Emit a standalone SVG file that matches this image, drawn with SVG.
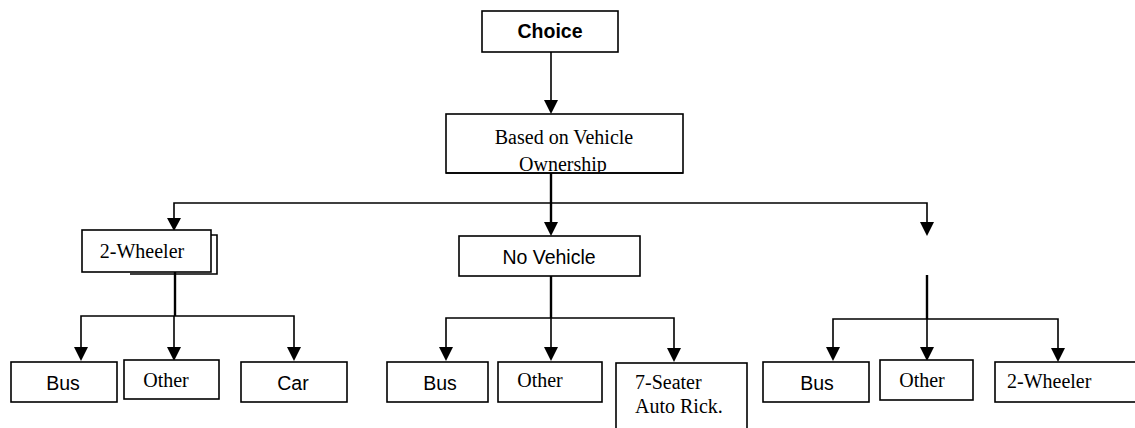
<svg xmlns="http://www.w3.org/2000/svg" width="1135" height="428" viewBox="0 0 1135 428">
<style>
.box{fill:#fff;stroke:#000;stroke-width:1.6}
.sans{font-family:"Liberation Sans",Arial,sans-serif;font-size:19.5px;fill:#000}
.serif{font-family:"Liberation Serif","Times New Roman",serif;font-size:20px;fill:#000}
.ln{fill:none;stroke:#000;stroke-width:1.6}
.trunk{fill:none;stroke:#000;stroke-width:2.4}
</style>
<defs>
<clipPath id="clipB"><rect x="446" y="114" width="237" height="58"/></clipPath>
</defs>
<g id="connectors">
<line class="ln" x1="551" y1="52" x2="551" y2="100"/>
<path d="M544,100 L558,100 L551,114 Z"/>
<line class="trunk" x1="551" y1="173" x2="551" y2="222"/>
<path class="ln" d="M174,220 L174,203 L927,203 L927,222"/>
<path d="M167,218 L181,218 L174,231 Z"/>
<path d="M544,222 L558,222 L551,236 Z"/>
<path d="M920,222 L934,222 L927,236 Z"/>
<line class="trunk" x1="175" y1="272" x2="175" y2="316"/>
<path class="ln" d="M81,348 L81,316 L294,316 L294,348"/>
<line class="ln" x1="174" y1="316" x2="174" y2="348"/>
<path d="M74,347 L88,347 L81,361 Z"/>
<path d="M167,347 L181,347 L174,361 Z"/>
<path d="M287,347 L301,347 L294,361 Z"/>
<line class="trunk" x1="551" y1="276" x2="551" y2="318"/>
<path class="ln" d="M446,348 L446,318 L674,318 L674,348"/>
<line class="ln" x1="551" y1="318" x2="551" y2="348"/>
<path d="M439,347 L453,347 L446,361 Z"/>
<path d="M544,347 L558,347 L551,361 Z"/>
<path d="M667,348 L681,348 L674,362 Z"/>
<line class="trunk" x1="927" y1="275" x2="927" y2="319"/>
<path class="ln" d="M833,348 L833,319 L1058,319 L1058,348"/>
<line class="ln" x1="927" y1="319" x2="927" y2="348"/>
<path d="M826,347 L840,347 L833,361 Z"/>
<path d="M920,347 L934,347 L927,361 Z"/>
<path d="M1051,348 L1065,348 L1058,362 Z"/>
</g>
<g id="node-choice">
<rect class="box" x="482" y="11" width="136" height="41"/>
<text class="sans" x="550" y="38" text-anchor="middle" font-weight="bold">Choice</text>
</g>
<g id="node-based">
<rect class="box" x="446" y="114" width="237" height="59"/>
<g clip-path="url(#clipB)">
<text class="serif" x="564" y="144" text-anchor="middle">Based on Vehicle</text>
<text class="serif" x="563" y="171" text-anchor="middle">Ownership</text>
</g>
<line class="ln" x1="446" y1="173" x2="683" y2="173"/>
</g>
<g id="node-2wheeler">
<path class="ln" d="M130,274 L217,274 L217,235 L211,235"/>
<rect class="box" x="82" y="230" width="129" height="42"/>
<text class="serif" x="142" y="258" text-anchor="middle">2-Wheeler</text>
</g>
<g id="node-novehicle">
<rect class="box" x="459" y="236" width="181" height="40"/>
<text class="sans" x="549" y="264" text-anchor="middle">No Vehicle</text>
</g>
<g id="node-l-bus">
<rect class="box" x="11" y="362" width="106" height="40"/>
<text class="sans" x="63" y="390" text-anchor="middle">Bus</text>
</g>
<g id="node-l-other">
<rect class="box" x="124" y="360" width="95" height="39"/>
<text class="serif" x="166" y="387" text-anchor="middle">Other</text>
</g>
<g id="node-l-car">
<rect class="box" x="241" y="362" width="106" height="40"/>
<text class="sans" x="293" y="390" text-anchor="middle">Car</text>
</g>
<g id="node-m-bus">
<rect class="box" x="387" y="362" width="101" height="40"/>
<text class="sans" x="440" y="390" text-anchor="middle">Bus</text>
</g>
<g id="node-m-other">
<rect class="box" x="498" y="362" width="104" height="40"/>
<text class="serif" x="540" y="387" text-anchor="middle">Other</text>
</g>
<g id="node-m-seater">
<rect class="box" x="616" y="363" width="131" height="70"/>
<text class="serif" x="635" y="389">7-Seater</text>
<text class="serif" x="635" y="413">Auto Rick.</text>
</g>
<g id="node-r-bus">
<rect class="box" x="763" y="362" width="106" height="40"/>
<text class="sans" x="817" y="390" text-anchor="middle">Bus</text>
</g>
<g id="node-r-other">
<rect class="box" x="880" y="360" width="93" height="40"/>
<text class="serif" x="922" y="387" text-anchor="middle">Other</text>
</g>
<g id="node-r-2wheeler">
<rect class="box" x="995" y="362" width="145" height="40"/>
<text class="serif" x="1007" y="388">2-Wheeler</text>
</g>
</svg>
